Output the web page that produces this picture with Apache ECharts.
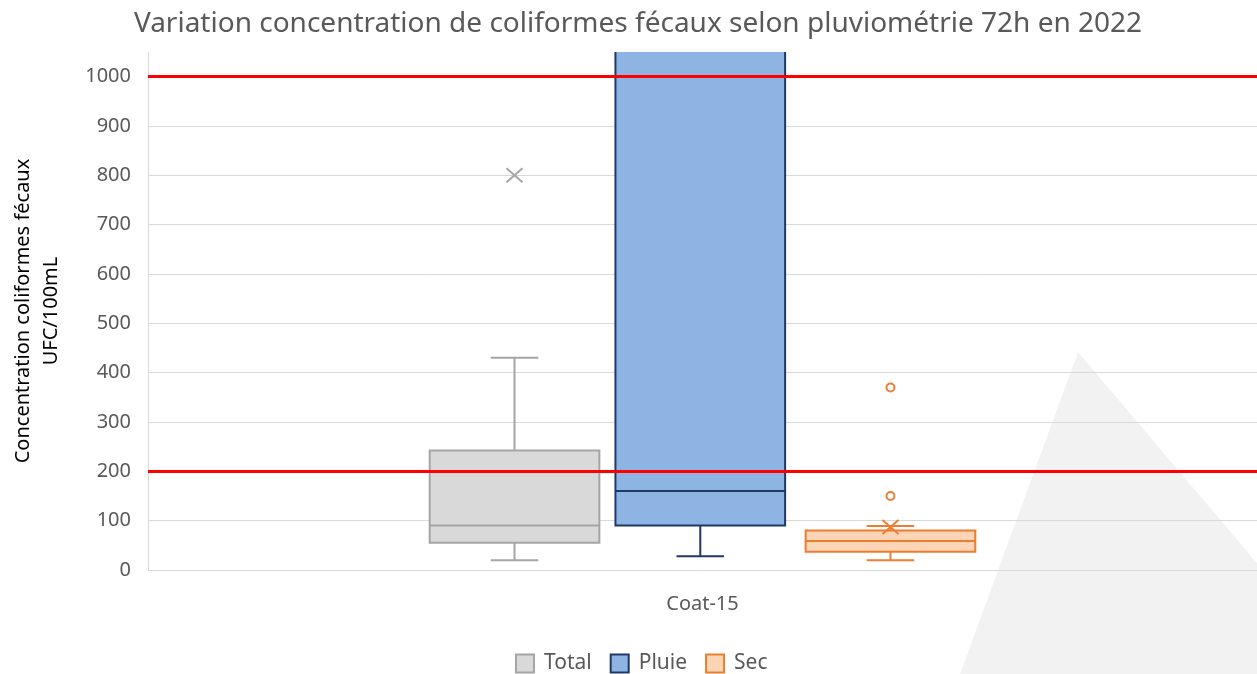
<!DOCTYPE html>
<html>
<head>
<meta charset="utf-8">
<script src="https://cdn.jsdelivr.net/npm/echarts@6/dist/echarts.min.js"></script>
<style>html,body{margin:0;padding:0;background:#fff;}#c{width:1257px;height:674px;}</style>
</head>
<body>
<div id="c"></div>
<script>
// ---- data ----
const categories = ['Coat-15'];
const seriesNames = ['Total', 'Pluie', 'Sec'];
// [min, Q1, median, Q3, max]
const totalStats = [20, 55, 90, 242, 430];
const pluieStats = [28, 90, 160, 1300, 2600];
const secStats = [20, 37, 59, 80, 89];
const totalMean = 800;
const pluieMean = 1400;
const secMean = 87;
const totalOutliers = [];
const pluieOutliers = [];
const secOutliers = [150, 370];
const thresholds = [1000, 200];
const yMin = 0, yMax = 1050, yInterval = 100;

// ---- styles ----
const styles = {
  Total: { fill: '#d9d9d9', stroke: '#a5a5a5', offset: -0.1695 },
  Pluie: { fill: '#8eb4e3', stroke: '#1f3864', offset: -0.002 },
  Sec:   { fill: '#fbd5b5', stroke: '#ed7d31', offset: 0.1695 }
};
const statsMap = { Total: totalStats, Pluie: pluieStats, Sec: secStats };
const meanMap = { Total: totalMean, Pluie: pluieMean, Sec: secMean };
const outMap = { Total: totalOutliers, Pluie: pluieOutliers, Sec: secOutliers };
const FONT = 'Noto Sans';

function makeRender(name) {
  const st = styles[name];
  const outs = outMap[name];
  return function (params, api) {
    const xv = api.value(0);
    const band = api.size([1, 0])[0];
    const cx = api.coord([xv, 0])[0] + st.offset * band;
    const bw = band * 0.153;
    const cw = bw * 0.28;
    const Y = v => api.coord([xv, v])[1];
    const mn = Y(api.value(1)), q1 = Y(api.value(2)), md = Y(api.value(3)),
          q3 = Y(api.value(4)), mx = Y(api.value(5)), mean = Y(api.value(6));
    const ls = { stroke: st.stroke, lineWidth: 2 };
    const children = [
      { type: 'line', shape: { x1: cx, y1: mx, x2: cx, y2: q3 }, style: ls },
      { type: 'line', shape: { x1: cx, y1: q1, x2: cx, y2: mn }, style: ls },
      { type: 'line', shape: { x1: cx - cw / 2, y1: mx, x2: cx + cw / 2, y2: mx }, style: ls },
      { type: 'line', shape: { x1: cx - cw / 2, y1: mn, x2: cx + cw / 2, y2: mn }, style: ls },
      { type: 'rect', shape: { x: cx - bw / 2, y: q3, width: bw, height: q1 - q3 },
        style: { fill: st.fill, stroke: st.stroke, lineWidth: 2 } },
      { type: 'line', shape: { x1: cx - bw / 2, y1: md, x2: cx + bw / 2, y2: md }, style: ls },
      { type: 'line', shape: { x1: cx - 8, y1: mean - 7, x2: cx + 8, y2: mean + 7 }, style: ls },
      { type: 'line', shape: { x1: cx - 8, y1: mean + 7, x2: cx + 8, y2: mean - 7 }, style: ls }
    ];
    outs.forEach(o => {
      children.push({ type: 'circle', shape: { cx: cx, cy: Y(o), r: 4 },
        style: { fill: '#fff', stroke: st.stroke, lineWidth: 2 } });
    });
    return { type: 'group', children: children };
  };
}

const series = seriesNames.map(name => ({
  name: name,
  type: 'custom',
  clip: true,
  renderItem: makeRender(name),
  encode: { x: 0, y: [1, 2, 3, 4, 5] },
  data: [[0].concat(statsMap[name]).concat([meanMap[name]])],
  z: 2
}));

series.push({
  name: 'seuils',
  type: 'line',
  data: [],
  z: 10,
  markLine: {
    silent: true,
    symbol: ['none', 'none'],
    label: { show: false },
    lineStyle: { color: '#ff0000', width: 3, type: 'solid' },
    data: thresholds.map(t => ({ yAxis: t }))
  }
});

const chart = echarts.init(document.getElementById('c'), null, { renderer: 'canvas' });
chart.setOption({
  backgroundColor: '#ffffff',
  animation: false,
  textStyle: { fontFamily: FONT },
  title: {
    text: 'Variation concentration de coliformes fécaux selon pluviométrie 72h en 2022',
    left: 633,
    textAlign: 'center',
    top: 5,
    textStyle: { fontFamily: FONT, fontSize: 28, fontWeight: 'normal', color: '#595959' }
  },
  legend: {
    top: 648,
    left: 510,
    itemWidth: 18,
    itemHeight: 18,
    itemGap: 18,
    textStyle: { fontFamily: FONT, fontSize: 21, color: '#595959', padding: [0, 0, 0, 5] },
    data: seriesNames.map(n => ({
      name: n, icon: 'rect',
      itemStyle: { color: styles[n].fill, borderColor: styles[n].stroke, borderWidth: 2 }
    }))
  },
  graphic: {
    elements: [{
      type: 'polygon',
      silent: true,
      shape: { points: [[1078, 352], [1257, 563], [1257, 674], [960, 674]] },
      style: { fill: 'rgba(0,0,0,0.05)' }
    }]
  },
  grid: { left: 148, right: 0, top: 52, bottom: 104, containLabel: false, outerBoundsMode: 'none' },
  xAxis: {
    type: 'category',
    data: categories,
    axisLine: { show: true, lineStyle: { color: '#d9d9d9', width: 1 } },
    axisTick: { show: false },
    axisLabel: { fontFamily: FONT, fontSize: 20, color: '#595959', margin: 24 },
    splitLine: { show: false }
  },
  yAxis: {
    type: 'value',
    min: yMin,
    max: yMax,
    interval: yInterval,
    name: 'Concentration coliformes fécaux\nUFC/100mL',
    nameLocation: 'middle',
    nameRotate: 90,
    nameGap: 83,
    nameTextStyle: { fontFamily: FONT, fontSize: 20, color: '#000', lineHeight: 28 },
    axisLine: { show: true, lineStyle: { color: '#d9d9d9', width: 1 } },
    axisTick: { show: false },
    axisLabel: { fontFamily: FONT, fontSize: 20, color: '#595959', margin: 17, showMaxLabel: false,
      formatter: v => String(v) },
    splitLine: { show: true, showMaxLine: false, lineStyle: { color: '#d9d9d9', width: 1 } }
  },
  series: series
});
</script>
</body>
</html>
